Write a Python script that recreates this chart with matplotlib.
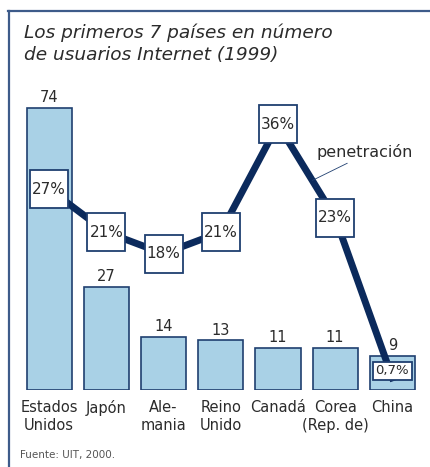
import matplotlib.pyplot as plt
from matplotlib.lines import Line2D

# Data
paises = ['Estados\nUnidos', 'Japón', 'Ale-\nmania', 'Reino\nUnido', 'Canadá', 'Corea\n(Rep. de)', 'China']
usuarios = [74, 27, 14, 13, 11, 11, 9]
penetracion = [27, 21, 18, 21, 36, 23, 0.7]
pen_labels = ['27%', '21%', '18%', '21%', '36%', '23%', '0,7%']

navy = '#0b2a5c'
frame_col = '#3d5b8a'
bar_col = '#a9d1e6'
text_col = '#2b2b2b'

fig = plt.figure(figsize=(4.31, 4.67), dpi=100)
ax = fig.add_axes([20.5 / 431, 77 / 467, 400.5 / 431, 305 / 467])
ax.set_xlim(-0.5, 6.5)
ax.set_ylim(0, 80)

x = list(range(len(paises)))
ax.bar(x, usuarios, width=0.79, color=bar_col, edgecolor='#1f3f70', linewidth=1.2)
for xi, v in zip(x, usuarios):
    ax.annotate(str(v), (xi, v), xytext=(0, 2), textcoords='offset points',
                ha='center', va='bottom', fontsize=10.5, color=text_col)

ax.set_xticks(x)
ax.set_xticklabels(paises, fontsize=10.5, color=text_col, linespacing=1.25)
ax.tick_params(axis='x', length=0, pad=7)
ax.set_yticks([])
for s in ax.spines.values():
    s.set_visible(False)

# penetration line on a second scale
ax2 = ax.twinx()
ax2.set_ylim(-1.0, 41.5)
ax2.set_yticks([])
for s in ax2.spines.values():
    s.set_visible(False)

ax2.plot(x, penetracion, color=navy, linewidth=5, solid_joinstyle='miter', zorder=2)
ax2.plot(x[:-1], penetracion[:-1], linestyle='none', marker='s', markersize=27,
         markerfacecolor='white', markeredgecolor='#1f3f70', markeredgewidth=1.3, zorder=3)
for xi, v, lab in zip(x[:-1], penetracion[:-1], pen_labels[:-1]):
    ax2.text(xi, v, lab, ha='center', va='center', fontsize=11, color=text_col, zorder=4)

# China: small box inside the bar
ax2.annotate(pen_labels[-1], (x[-1], penetracion[-1]), xytext=(0, 5), textcoords='offset points',
             ha='center', va='center', fontsize=9.5, color=text_col, zorder=4,
             bbox=dict(boxstyle='square,pad=0.2', facecolor='white', edgecolor='#1f3f70', linewidth=1.3))

# "penetración" label with leader line
ax2.annotate('penetración', xy=(4.6, 28.2), xytext=(4.67, 32.1), ha='left', va='center',
             fontsize=11.5, color=text_col,
             arrowprops=dict(arrowstyle='-', color='#1f3f70', lw=0.6, relpos=(0.38, 0),
                             shrinkA=0, shrinkB=0))

# title and source
fig.text(24 / 431, 1 - 23 / 467, 'Los primeros 7 países en número\nde usuarios Internet (1999)',
         ha='left', va='top', fontsize=13.3, style='italic', color=text_col, linespacing=1.3)
fig.text(20 / 431, 1 - 455 / 467, 'Fuente: UIT, 2000.', ha='left', va='center',
         fontsize=7.5, color='#555555')

# frame
fig.add_artist(Line2D([8 / 431, 1], [1 - 11 / 467, 1 - 11 / 467], color=frame_col, lw=1.6,
                      transform=fig.transFigure))
fig.add_artist(Line2D([9 / 431, 9 / 431], [0, 1 - 11 / 467], color=frame_col, lw=1.6,
                      transform=fig.transFigure))

fig.savefig('out.png', dpi=100)
